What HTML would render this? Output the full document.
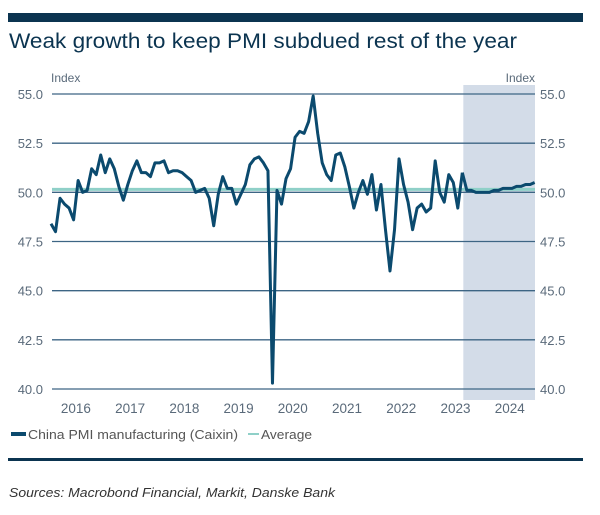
<!DOCTYPE html>
<html><head><meta charset="utf-8"><style>
html,body{margin:0;padding:0;background:#fff;}
svg{display:block;font-family:"Liberation Sans",sans-serif;}
</style></head><body>
<svg width="600" height="515" viewBox="0 0 600 515" xmlns="http://www.w3.org/2000/svg" id="chart">
<rect x="8" y="13" width="575" height="9" fill="#0b3450"/>
<text x="9" y="48" font-size="21" fill="#0b3450" textLength="508" lengthAdjust="spacingAndGlyphs">Weak growth to keep PMI subdued rest of the year</text>
<text x="51" y="82" font-size="12" fill="#5a6a7a">Index</text>
<text x="535" y="82" font-size="12" fill="#5a6a7a" text-anchor="end">Index</text>
<g id="plot"></g>
<g>
<line x1="11" y1="434" x2="26" y2="434" stroke="#0b4a6e" stroke-width="4"/>
<text x="28" y="439" font-size="13" fill="#555" textLength="210" lengthAdjust="spacingAndGlyphs">China PMI manufacturing (Caixin)</text>
<line x1="248" y1="434" x2="259" y2="434" stroke="#8fd0c8" stroke-width="2"/>
<text x="261" y="439" font-size="13" fill="#555" textLength="51" lengthAdjust="spacingAndGlyphs">Average</text>
</g>
<rect x="8" y="458" width="575" height="3" fill="#0b3450"/>
<text x="9" y="497" font-size="13" font-style="italic" fill="#333" textLength="326" lengthAdjust="spacingAndGlyphs">Sources: Macrobond Financial, Markit, Danske Bank</text>
</svg>
<script>
const yTicks=[55.0,52.5,50.0,47.5,45.0,42.5,40.0];
const years=[2016,2017,2018,2019,2020,2021,2022,2023,2024];
const actual=[48.4,48.0,49.7,49.4,49.2,48.6,50.6,50.0,50.1,51.2,50.9,51.9,
51.0,51.7,51.2,50.3,49.6,50.4,51.1,51.6,51.0,51.0,50.8,51.5,
51.5,51.6,51.0,51.1,51.1,51.0,50.8,50.6,50.0,50.1,50.2,49.7,
48.3,49.9,50.8,50.2,50.2,49.4,49.9,50.4,51.4,51.7,51.8,51.5,
51.1,40.3,50.1,49.4,50.7,51.2,52.8,53.1,53.0,53.6,54.9,53.0,
51.5,50.9,50.6,51.9,52.0,51.3,50.3,49.2,50.0,50.6,49.9,50.9,
49.1,50.4,48.1,46.0,48.1,51.7,50.4,49.5,48.1,49.2,49.4,49.0,
49.2,51.6,50.0,49.5,50.9,50.5,49.2,51.0];
const forecast=[51.0,50.1,50.1,50.0,50.0,50.0,50.0,50.1,50.1,50.2,50.2,50.2,50.3,50.3,50.4,50.4,50.5];
const averageValue=[50.15];
const NS='http://www.w3.org/2000/svg';
const g=document.getElementById('plot');
const X0=51,DX=4.52,PL=52,PR=535;
const x=i=>X0+i*DX;
const y=v=>94+(55-v)*(295/15);
function mk(t,a){const e=document.createElementNS(NS,t);for(const k in a)e.setAttribute(k,a[k]);g.appendChild(e);return e;}
const shade=mk('rect',{x:x(actual.length-1)+1,y:85,width:PR-x(actual.length-1)-1,height:315,fill:'#d3dce8'});


yTicks.forEach(v=>{
const l=mk('line',{x1:PL,x2:PR,y1:y(v),y2:y(v),stroke:'#3d6584','stroke-width':1.3});


const t1=mk('text',{x:43,y:y(v)+5,'font-size':13,fill:'#5a6a7a','text-anchor':'end'});t1.textContent=v.toFixed(1);


const t2=mk('text',{x:540,y:y(v)+5,'font-size':13,fill:'#5a6a7a'});t2.textContent=v.toFixed(1);


});
years.forEach((yr,i)=>{
const t=mk('text',{x:x(i*12+5.5),y:413,'font-size':13.5,fill:'#5a6a7a','text-anchor':'middle'});t.textContent=yr;


});
const av=mk('line',{x1:PL,x2:PR,y1:y(averageValue[0]),y2:y(averageValue[0]),stroke:'#8fd0c8','stroke-width':3});


const p1=mk('polyline',{points:actual.map((v,i)=>x(i)+','+y(v)).join(' '),fill:'none',stroke:'#0b4a6e','stroke-width':3,'stroke-linejoin':'round'});


const off=actual.length-1;
const p2=mk('polyline',{points:forecast.map((v,i)=>x(off+i)+','+y(v)).join(' '),fill:'none',stroke:'#0b4a6e','stroke-width':3,'stroke-linejoin':'round'});


</script>
</body></html>
